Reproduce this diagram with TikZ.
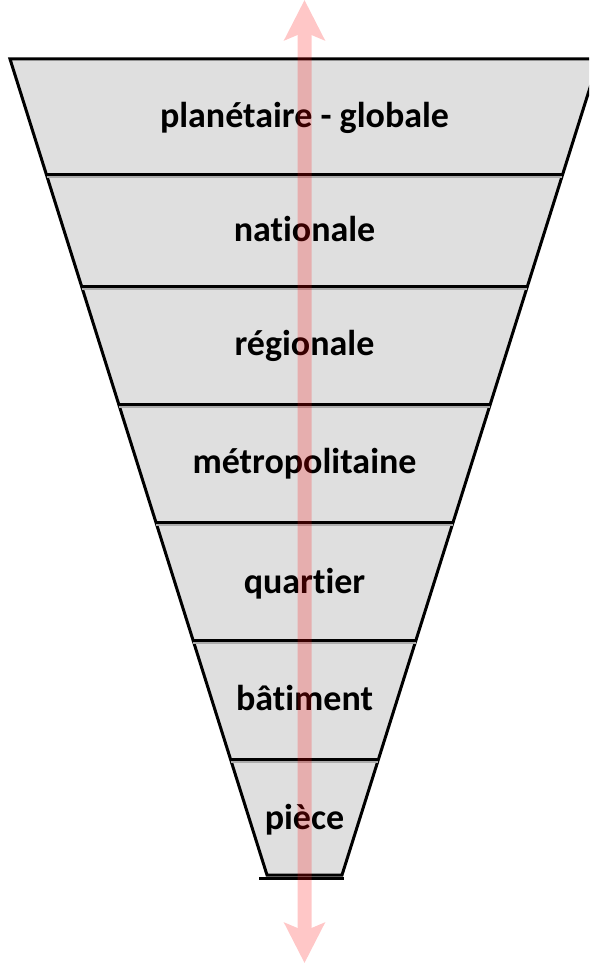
\documentclass[tikz,border=0pt]{standalone}
\usepackage{fontspec}
\setmainfont{Carlito}[Ligatures=NoCommon]
\usepackage{tikz}
\usetikzlibrary{arrows.meta}
\colorlet{bandGray}{black!12.5}
\colorlet{bandShadow}{black!33}
\colorlet{scaleArrow}{red}

\begin{document}
\begin{tikzpicture}[
  x=1pt,
  y=-1pt,
  funnel/.style={
    fill=bandGray,
    draw=black,
    line width=3pt,
  },
  divider/.style={
    draw=black,
    line width=3pt,
  },
  divider shadow/.style={
    draw=bandShadow,
    line width=2.6pt,
  },
  level/.style={
    anchor=base,
    inner sep=0pt,
    font=\fontsize{36}{40}\selectfont\bfseries,
  },
  scale arrow/.style={
    draw=scaleArrow,
    line width=14pt,
    {Stealth[length=40pt,width=40pt,inset=8pt]}-{Stealth[length=40pt,width=40pt,inset=8pt]},
  },
]
\useasboundingbox (0,0) rectangle (589,963);
\clip (0,0) rectangle (589,963);
% the funnel
\path[funnel] (10,59) -- (599,59) -- (342,875) -- (267,875) -- cycle;
\draw[divider shadow] (47,177) -- (562,177);
\draw[divider shadow] (82,289) -- (527,289);
\draw[divider shadow] (119,407) -- (490,407);
\draw[divider shadow] (156,525) -- (453,525);
\draw[divider shadow] (193,643) -- (416,643);
\draw[divider shadow] (231,762) -- (378,762);
\draw[divider] (46.2,174) -- (562.8,174);
\draw[divider] (81.5,286) -- (527.5,286);
\draw[divider] (118.7,404) -- (490.3,404);
\draw[divider] (155.8,522) -- (453.2,522);
\draw[divider] (193,640) -- (416,640);
\draw[divider] (230.5,759) -- (378.5,759);
\draw[divider] (259,878) -- (344,878);
% the levels
\node[level] (planetaire) at (304.5,128) {planétaire - globale};
\node[level] (nationale) at (304.5,241) {nationale};
\node[level] (regionale) at (304.5,355) {régionale};
\node[level] (metropolitaine) at (304.5,473) {métropolitaine};
\node[level] (quartier) at (304.5,593) {quartier};
\node[level] (batiment) at (304.5,710) {bâtiment};
\node[level] (piece) at (304.5,829) {pièce};
% the scale arrow
\coordinate (arrowTop) at (304.5,0);
\coordinate (arrowBottom) at (304.5,963);
\begin{scope}[transparency group,opacity=0.22]
\draw[scale arrow] (arrowTop) -- (arrowBottom);
\end{scope}
\end{tikzpicture}
\end{document}
